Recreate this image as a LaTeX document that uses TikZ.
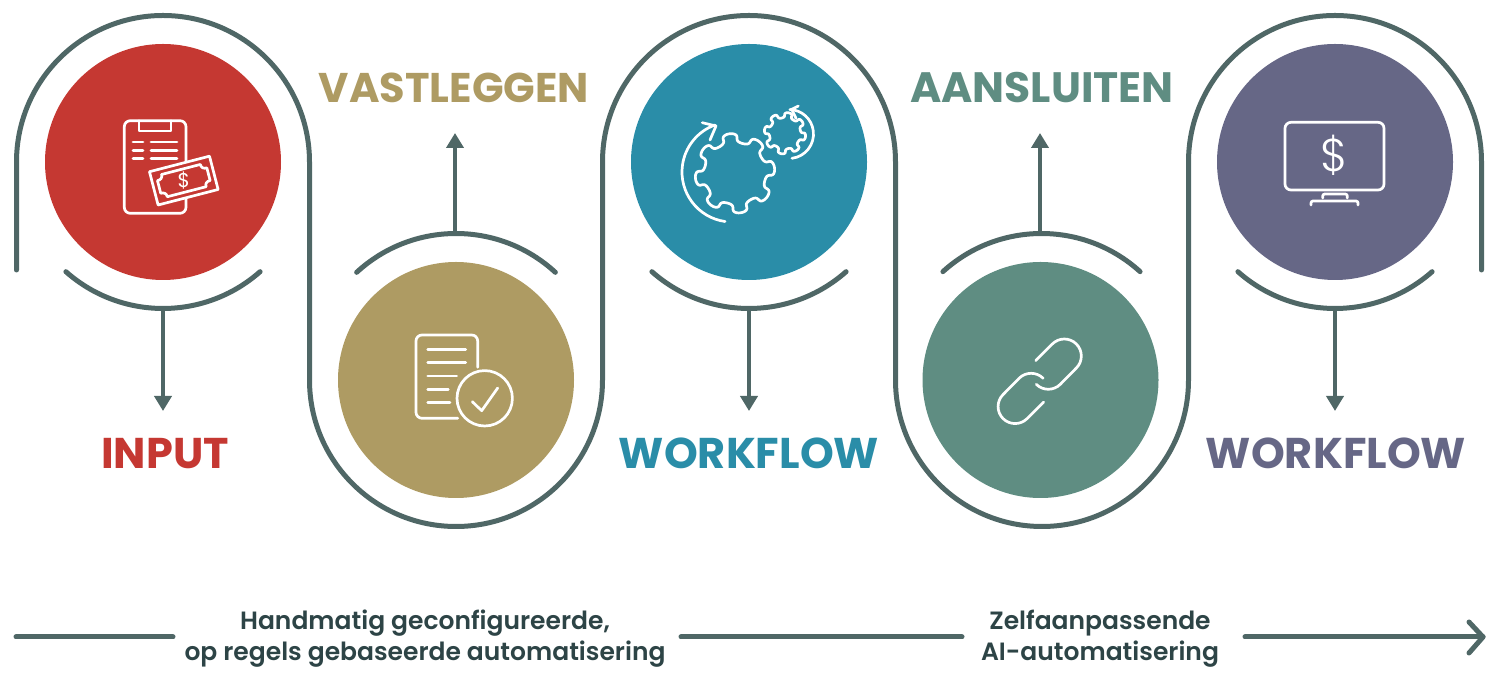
\documentclass[tikz,border=0pt]{standalone}
\usepackage{fontspec}
\setmainfont{Poppins}
\newfontfamily\lightfont{Poppins Light}
\newfontfamily\phasefont{Poppins SemiBold}
\usepackage{xcolor}
\usepackage{tikz}
\usetikzlibrary{arrows.meta}
\definecolor{ringgrey}{HTML}{4F6766}
\definecolor{textgrey}{HTML}{2D4446}
\definecolor{inputred}{HTML}{C53832}
\definecolor{vastgold}{HTML}{AE9B63}
\definecolor{flowteal}{HTML}{2A8DA8}
\definecolor{linkgreen}{HTML}{5F8D82}
\definecolor{payviolet}{HTML}{666786}
\begin{document}
\begin{tikzpicture}[x=1pt,y=1pt,
  ring/.style={ringgrey,line width=5pt,line cap=round,line join=round},
  flow/.style={ringgrey,line width=4.4pt,-{Triangle[width=17pt,length=15pt]}},
  stepdisc/.style={circle,inner sep=0pt,minimum size=236pt},
  steptitle/.style={font=\fontsize{43}{47}\selectfont\bfseries},
  phase/.style={font=\fontsize{25}{31}\selectfont\phasefont,text=textgrey,align=center},
  icon/.style={white,line width=2.7pt,line cap=round,line join=round}]
\useasboundingbox (0,0) rectangle (1500,685);
\draw[ring] (16.5,415) -- (16.5,523) arc[start angle=180,end angle=0,radius=146.5] -- (309.5,305) arc[start angle=180,end angle=360,radius=146.5] -- (602.5,523) arc[start angle=180,end angle=0,radius=146.5] -- (895.5,305) arc[start angle=180,end angle=360,radius=146.5] -- (1188.5,523) arc[start angle=180,end angle=0,radius=146.5] -- (1481.5,415);
\draw[ring] (163,523)+(228.5:146.5) arc[start angle=228.5,end angle=311.5,radius=146.5];
\draw[ring] (749,523)+(228.5:146.5) arc[start angle=228.5,end angle=311.5,radius=146.5];
\draw[ring] (1335,523)+(228.5:146.5) arc[start angle=228.5,end angle=311.5,radius=146.5];
\draw[ring] (456,305)+(47.3:146.5) arc[start angle=47.3,end angle=132.7,radius=146.5];
\draw[ring] (1041.5,305)+(47.7:146.5) arc[start angle=47.7,end angle=132.3,radius=146.5];
\node[stepdisc,fill=inputred] (input) at (163,523) {};
\node[stepdisc,fill=vastgold] (vast) at (456,305) {};
\node[stepdisc,fill=flowteal] (workflow) at (749,523) {};
\node[stepdisc,fill=linkgreen] (link) at (1040.5,305) {};
\node[stepdisc,fill=payviolet] (pay) at (1335,523) {};
\node[steptitle,text=inputred] (inputtitle) at (165,231) {INPUT};
\node[steptitle,text=vastgold] (vasttitle) at (454,597) {\fontsize{41.5}{45}\selectfont VASTLEGGEN};
\node[steptitle,text=flowteal] (workflowtitle) at (749,232) {WORKFLOW};
\node[steptitle,text=linkgreen] (linktitle) at (1042,597) {\fontsize{42.5}{46}\selectfont AANSLUITEN};
\node[steptitle,text=payviolet] (paytitle) at (1336,232) {WORKFLOW};
\coordinate (inputarc) at (163,376.5);
\coordinate (inputtip) at (163,274);
\coordinate (vastarc) at (455,451.5);
\coordinate (vasttip) at (455,552);
\coordinate (workflowarc) at (749,376.5);
\coordinate (workflowtip) at (749,274);
\coordinate (linkarc) at (1040,451.5);
\coordinate (linktip) at (1040,552);
\coordinate (payarc) at (1335,376.5);
\coordinate (paytip) at (1335,274);
\draw[flow] (inputarc) -- (inputtip);
\draw[flow] (vastarc) -- (vasttip);
\draw[flow] (workflowarc) -- (workflowtip);
\draw[flow] (linkarc) -- (linktip);
\draw[flow] (payarc) -- (paytip);
% clipboard
\draw[icon,rounded corners=6pt] (124.3,471.7) rectangle (186,564.3);
\draw[icon] (139,564.3) -- (139,554) -- (171,554) -- (171,564.3);
\foreach \y in {543,534.3,526.3} {
  \draw[icon] (133,\y) -- (143,\y);
  \draw[icon] (151,\y) -- (177,\y);
}
\begin{scope}[shift={(183.8,504.4)},rotate=14.5]
\draw[icon,fill=inputred] (-31,-17.2) rectangle (31,17.2);
\draw[icon] (-20,11.5) -- (20,11.5) .. controls (20,8) and (22,6.5) .. (25.5,6.5) -- (25.5,-6.5) .. controls (22,-6.5) and (20,-8) .. (20,-11.5) -- (-20,-11.5) .. controls (-20,-8) and (-22,-6.5) .. (-25.5,-6.5) -- (-25.5,6.5) .. controls (-22,6.5) and (-20,8) .. (-20,11.5) -- cycle;
\end{scope}
\node[text=white,font=\fontsize{20}{20}\selectfont,inner sep=0pt] (billsign) at (183.8,504.4) {\$};
% checked document
\draw[icon,rounded corners=6pt] (477.7,317.7) -- (477.7,350) -- (416,350) -- (416,266.7) -- (457.7,266.7);
\draw[icon] (427.7,335.3) -- (465.7,335.3);
\draw[icon] (427.7,322.3) -- (465.7,322.3);
\draw[icon] (427.7,309) -- (456.7,309);
\draw[icon] (427.7,295.7) -- (448.3,295.7);
\draw[icon] (427.7,282.7) -- (450,282.7);
\draw[icon] (484.7,286.7) circle (27.7);
\draw[icon] (472.3,283.3) -- (481.7,274.3) -- (497.7,297);
% gears
\draw[icon,smooth,samples=289,domain=0:360] plot ({735+(35.3+4.6*cos(8*(\x-8)))*cos(\x+3.3*sin(16*(\x-8)))},{511.7+(35.3+4.6*cos(8*(\x-8)))*sin(\x+3.3*sin(16*(\x-8)))});
\draw[icon,smooth,samples=289,domain=0:360] plot ({785+(18.2+2.6*cos(8*(\x+10)))*cos(\x+3.3*sin(16*(\x+10)))},{551.7+(18.2+2.6*cos(8*(\x+10)))*sin(\x+3.3*sin(16*(\x+10)))});
\draw[icon] (732,513)+(262:50) arc[start angle=262,end angle=110,radius=50];
\draw[icon] (702.3,562.3) -- (716,559) -- (710,545);
\draw[icon] (789,551)+(-83:24.5) arc[start angle=-83,end angle=88,radius=24.5];
\draw[icon] (798.3,579) -- (791.7,575.7) -- (796,566.7);
% chain
\begin{scope}[shift={(1039.7,303.7)}]
\foreach \r in {0,180} {
  \draw[icon,rotate=\r] (-4,20.7) -- (12.6,37.3) arc[start angle=135,end angle=-45,radius=17] -- (20.6,-3) arc[start angle=-45,end angle=-135,radius=17];
}
\end{scope}
% monitor
\draw[icon,rounded corners=6pt] (1285,495) rectangle (1384,562.7);
\node[text=white,font=\lightfont\fontsize{46}{46}\selectfont,inner sep=0pt] (paysign) at (1334.5,530) {\$};
\draw[icon,rounded corners=2pt] (1322.7,487) -- (1322.7,491) -- (1347.3,491) -- (1347.3,487);
\draw[icon,rounded corners=2pt] (1311,480) -- (1311,484) -- (1358,484) -- (1358,480);
% bottom line
\node[phase] (manual) at (425,46) {Handmatig geconfigureerde,\\op regels gebaseerde automatisering};
\node[phase] (selfadapt) at (1100,46) {Zelfaanpassende\\AI-automatisering};
\coordinate (linestart) at (16,48);
\coordinate (lineend) at (1483,48);
\draw[ring] (linestart) -- (173,48);
\draw[ring] (681,48) -- (962,48);
\draw[ring] (1245,48) -- (lineend);
\draw[ring] (1469,63) -- (lineend) -- (1469,32);
\end{tikzpicture}
\end{document}
